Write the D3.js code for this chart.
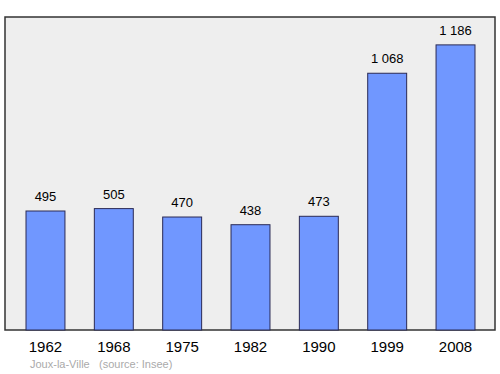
<!DOCTYPE html>
<html lang="fr">
<head>
  <meta charset="UTF-8">
  <title>Joux-la-Ville population</title>
  <script src="https://d3js.org/d3.v7.min.js"></script>
  <style>
    body { margin: 0; background: #fff; }
    svg text { font-family: "Liberation Sans", Arial, sans-serif; }
  </style>
</head>
<body>
  <svg width="500" height="374"></svg>
  <script>
    const years = ["1962", "1968", "1975", "1982", "1990", "1999", "2008"];
    const population = [495, 505, 470, 438, 473, 1068, 1186];
    const valueLabels = ["495", "505", "470", "438", "473", "1 068", "1 186"];

    const svg = d3.select("svg");
    const plot = {left: 5, top: 17, right: 495, bottom: 330};

    const x = d3.scaleBand()
        .domain(years)
        .range([plot.left + 0.5, plot.right + 0.5])
        .paddingInner(0.43)
        .paddingOuter(0.3);

    const y = d3.scaleLinear()
        .domain([0, 1302])
        .range([plot.bottom, plot.top]);

    svg.append("rect")
        .attr("x", plot.left)
        .attr("y", plot.top)
        .attr("width", plot.right - plot.left)
        .attr("height", plot.bottom - plot.top)
        .attr("fill", "#eeeeee")
        .attr("stroke", "#333")
        .attr("stroke-width", 1.5);

    const data = years.map((d, i) => ({year: d, value: population[i], label: valueLabels[i]}));

    svg.selectAll(".bar")
      .data(data)
      .join("rect")
        .attr("class", "bar")
        .attr("x", d => x(d.year))
        .attr("y", d => y(d.value))
        .attr("width", x.bandwidth())
        .attr("height", d => y(0) - y(d.value))
        .attr("fill", "#7097ff")
        .attr("stroke", "#2a2a55")
        .attr("stroke-width", 1);

    svg.selectAll(".val")
      .data(data)
      .join("text")
        .attr("class", "val")
        .attr("x", d => x(d.year) + x.bandwidth() / 2)
        .attr("y", d => y(d.value) - 10)
        .attr("text-anchor", "middle")
        .attr("font-size", 13)
        .attr("fill", "#000")
        .text(d => d.label);

    svg.selectAll(".year")
      .data(data)
      .join("text")
        .attr("class", "year")
        .attr("x", d => x(d.year) + x.bandwidth() / 2)
        .attr("y", 352)
        .attr("text-anchor", "middle")
        .attr("font-size", 15)
        .attr("fill", "#000")
        .text(d => d.year);

    svg.append("text")
        .attr("x", 30)
        .attr("y", 368)
        .attr("font-size", 11)
        .attr("fill", "#aaa")
        .text("Joux-la-Ville");

    svg.append("text")
        .attr("x", 99)
        .attr("y", 368)
        .attr("font-size", 11)
        .attr("fill", "#aaa")
        .text("(source: Insee)");
  </script>
</body>
</html>
